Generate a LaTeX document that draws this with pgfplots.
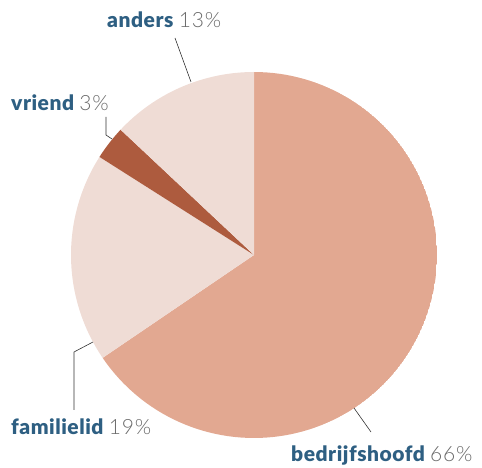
\documentclass[border=0pt]{standalone}
\usepackage{pgfplots}
\pgfplotsset{compat=1.18}
\usepgfplotslibrary{polar}
\usepackage{fontspec}
\setmainfont{Lato}
\newfontfamily\lightfont[LetterSpace=4]{Lato Light}
\newfontfamily\blackfont[LetterSpace=2.5]{Lato Black}
\definecolor{cBig}{HTML}{E2A891}
\definecolor{cLight}{HTML}{EFDCD5}
\definecolor{cDark}{HTML}{AD5B3E}
\definecolor{cBlue}{HTML}{2E5F82}
\definecolor{cGrey}{HTML}{6A6A6A}
\newcommand{\lab}[2]{{\fontsize{21}{24}\selectfont\textcolor{cBlue}{\blackfont #1} \textcolor{cGrey}{\lightfont #2}}}
\begin{document}
\begin{tikzpicture}[x=1pt,y=1pt]
\useasboundingbox (0,0) rectangle (482,468);
\begin{polaraxis}[at={(254pt,213pt)}, anchor=center, hide axis, scale only axis,
  width=366pt, height=366pt, ymin=0, ymax=1, xmin=0, xmax=360]
% slices: start angle, end angle (degrees, clockwise from top)
\addplot[fill=cBig, draw=none, domain=-145.8:90, samples=120] {1} -- (axis cs:0,0) -- cycle;   % bedrijfshoofd 65.5
\addplot[fill=cLight, draw=none, domain=147.6:214.2, samples=60] {1} -- (axis cs:0,0) -- cycle; % familielid 18.5
\addplot[fill=cDark, draw=none, domain=136.8:147.6, samples=20] {1} -- (axis cs:0,0) -- cycle;  % vriend 3
\addplot[fill=cLight, draw=none, domain=90:136.8, samples=50] {1} -- (axis cs:0,0) -- cycle;    % anders 13
\end{polaraxis}
\draw[black!80, line width=0.6pt] (175,430) -- (191,386);
\draw[black!80, line width=0.6pt] (106,351) -- (106,333) -- (112,329);
\draw[black!80, line width=0.6pt] (74,58) -- (74,116) -- (93,126);
\draw[black!80, line width=0.6pt] (354,60) -- (371,36);
\node[anchor=west, inner sep=0] at (107,448) {\lab{anders}{13\%}};
\node[anchor=west, inner sep=0] at (11,365) {\lab{vriend}{3\%}};
\node[anchor=west, inner sep=0] at (11,41) {\lab{familielid}{19\%}};
\node[anchor=west, inner sep=0] at (291,13) {\lab{bedrijfshoofd}{66\%}};
\end{tikzpicture}
\end{document}
